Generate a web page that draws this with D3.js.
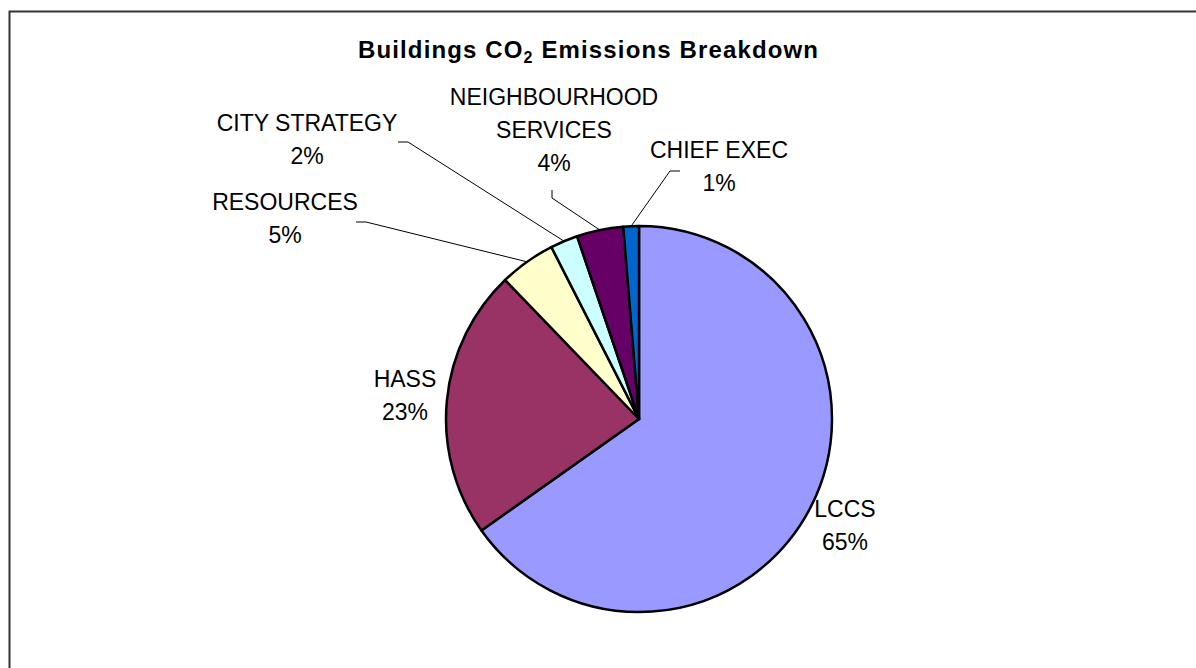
<!DOCTYPE html>
<html>
<head>
<meta charset="utf-8">
<script src="https://cdn.jsdelivr.net/npm/d3@7"></script>
<style>
  body { margin: 0; background: #fff; }
  text { font-family: "Liberation Sans", Arial, sans-serif; }
</style>
</head>
<body>
<div id="chart"></div>
<script>
    var width = 1196;
    var height = 668;

    // data (clockwise from 12 o'clock)
    var categories = ["LCCS", "HASS", "RESOURCES", "CITY STRATEGY", "NEIGHBOURHOOD SERVICES", "CHIEF EXEC"];
    var values = [65.2, 22.6, 4.7, 2.3, 3.9, 1.3];
    var pctLabels = ["65%", "23%", "5%", "2%", "4%", "1%"];
    var colors = ["#9999ff", "#993366", "#ffffcc", "#ccffff", "#660066", "#0066cc"];

    // label placement (label lines, anchor for leader)
    var labelPos = {
      "LCCS": {x: 845, y: 517, lines: ["LCCS"]},
      "HASS": {x: 405, y: 387, lines: ["HASS"]},
      "RESOURCES": {x: 285, y: 210, lines: ["RESOURCES"], leader: [356, 222]},
      "CITY STRATEGY": {x: 307, y: 131, lines: ["CITY STRATEGY"], leader: [398, 142]},
      "NEIGHBOURHOOD SERVICES": {x: 554, y: 105, lines: ["NEIGHBOURHOOD", "SERVICES"], leader: [552, 190], vertical: true},
      "CHIEF EXEC": {x: 719, y: 158, lines: ["CHIEF EXEC"], leader: [680, 171]}
    };

    var cx = 639, cy = 419, radius = 193;

    var svg = d3.select("#chart").append("svg")
        .attr("width", width)
        .attr("height", height);

    // chart frame (runs off the right and bottom of the picture)
    svg.append("rect")
        .attr("x", 9.5)
        .attr("y", 11.5)
        .attr("width", 1300)
        .attr("height", 800)
        .attr("fill", "none")
        .attr("stroke", "#333")
        .attr("stroke-width", 2);

    // title
    var title = svg.append("text")
        .attr("x", 588)
        .attr("y", 58)
        .attr("text-anchor", "middle")
        .attr("font-size", 24)
        .attr("font-weight", "bold")
        .attr("textLength", 460)
        .attr("lengthAdjust", "spacing");
    title.append("tspan").text("Buildings CO");
    title.append("tspan").attr("font-size", 16).attr("dy", 5).text("2");
    title.append("tspan").attr("dy", -5).text(" Emissions Breakdown");

    var data = categories.map(function(c, i) {
      return {name: c, value: values[i], label: pctLabels[i], color: colors[i]};
    });

    var pie = d3.pie()
        .sort(null)
        .value(function(d) { return d.value; });

    var arc = d3.arc()
        .innerRadius(0)
        .outerRadius(radius);

    var arcs = pie(data);

    var g = svg.append("g")
        .attr("transform", "translate(" + cx + "," + cy + ")");

    g.selectAll("path")
        .data(arcs)
        .enter().append("path")
          .attr("d", arc)
          .attr("fill", function(d) { return d.data.color; })
          .attr("stroke", "#000")
          .attr("stroke-width", 2.5)
          .attr("stroke-linejoin", "round");

    // leader lines
    arcs.forEach(function(a) {
      var p = labelPos[a.data.name];
      if (!p.leader) return;
      var mid = (a.startAngle + a.endAngle) / 2;
      var ex = cx + radius * Math.sin(mid);
      var ey = cy - radius * Math.cos(mid);
      var pts;
      if (p.vertical) {
        pts = [p.leader, [p.leader[0], p.leader[1] + 8], [ex, ey]];
      } else {
        var dir = ex > p.leader[0] ? 10 : -10;
        pts = [p.leader, [p.leader[0] + dir, p.leader[1]], [ex, ey]];
      }
      svg.append("path")
          .attr("d", d3.line()(pts))
          .attr("fill", "none")
          .attr("stroke", "#000")
          .attr("stroke-width", 1);
    });

    // labels
    arcs.forEach(function(a) {
      var p = labelPos[a.data.name];
      var t = svg.append("text")
          .attr("text-anchor", "middle")
          .attr("font-size", 23)
          .attr("fill", "#000");
      var lines = p.lines.concat([a.data.label]);
      lines.forEach(function(l, i) {
        t.append("tspan")
            .attr("x", p.x)
            .attr("y", p.y + i * 33)
            .text(l);
      });
    });
</script>
</body>
</html>
